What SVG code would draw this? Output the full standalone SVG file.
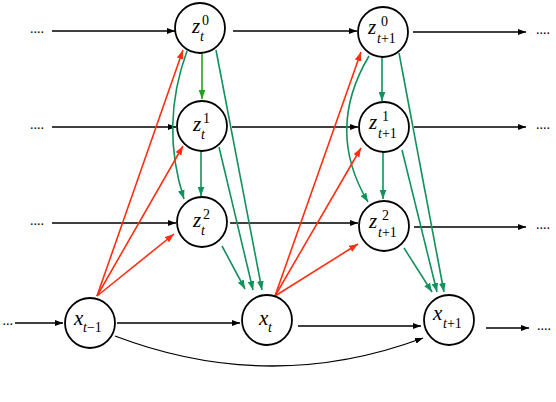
<svg xmlns="http://www.w3.org/2000/svg" width="556" height="402" viewBox="0 0 556 402">
<style>
.node circle{fill:#fff;stroke:#000;stroke-width:1.8}
.lbl{font-style:italic;font-size:21px}
.sub{font-size:14px}
.it{font-style:italic}
.dots{font-size:14px}
.blk{stroke:#000;stroke-width:1.3;fill:none;marker-end:url(#ab)}
.red{stroke:#ff2e12;stroke-width:1.6;fill:none;marker-end:url(#ar)}
.grn{stroke:#11925a;stroke-width:1.6;fill:none;marker-end:url(#ag)}
.grn2{stroke:#1fa31f;stroke-width:1.6;fill:none;marker-end:url(#ag2)}
</style>
<defs>
<marker id="ab" viewBox="0 0 8 6" refX="8" refY="3" markerWidth="8" markerHeight="6" markerUnits="userSpaceOnUse" orient="auto"><path d="M0,0 L8,3 L0,6 z" fill="#000"/></marker>
<marker id="ar" viewBox="0 0 8 6" refX="8" refY="3" markerWidth="9" markerHeight="7" markerUnits="userSpaceOnUse" orient="auto"><path d="M0,0 L8,3 L0,6 z" fill="#ff2e12"/></marker>
<marker id="ag" viewBox="0 0 8 6" refX="8" refY="3" markerWidth="9" markerHeight="7" markerUnits="userSpaceOnUse" orient="auto"><path d="M0,0 L8,3 L0,6 z" fill="#11925a"/></marker>
<marker id="ag2" viewBox="0 0 8 6" refX="8" refY="3" markerWidth="9" markerHeight="7" markerUnits="userSpaceOnUse" orient="auto"><path d="M0,0 L8,3 L0,6 z" fill="#1fa31f"/></marker>
</defs>
<g id="connectors">
<line class="blk" x1="52" y1="31" x2="175" y2="31"/>
<line class="blk" x1="233" y1="31" x2="357" y2="31"/>
<line class="blk" x1="413" y1="32" x2="526" y2="32"/>
<line class="blk" x1="52" y1="127" x2="176" y2="127"/>
<line class="blk" x1="232" y1="127" x2="358" y2="127"/>
<line class="blk" x1="414" y1="127" x2="526" y2="127"/>
<line class="blk" x1="52" y1="223" x2="176" y2="223"/>
<line class="blk" x1="230" y1="223" x2="358" y2="223"/>
<line class="blk" x1="414" y1="227" x2="526" y2="227"/>
<line class="blk" x1="15" y1="323" x2="63" y2="323"/>
<line class="blk" x1="117" y1="323" x2="240" y2="323"/>
<line class="blk" x1="298" y1="326" x2="421" y2="326"/>
<line class="blk" x1="486" y1="328" x2="529" y2="328"/>
<path class="blk" d="M115,336 Q270,395 423,338"/>
<line class="grn2" x1="202" y1="53" x2="202" y2="99"/>
<line class="grn" x1="201" y1="151" x2="201" y2="196"/>
<line class="grn" x1="382" y1="57" x2="382" y2="101"/>
<line class="grn" x1="383" y1="152" x2="383" y2="199"/>
<path class="grn" d="M187,51 Q160,125 184,199"/>
<path class="grn" d="M369,56 Q325,130 368,202"/>
<line class="grn" x1="216" y1="50" x2="262" y2="290"/>
<line class="grn" x1="219" y1="147" x2="253" y2="290"/>
<line class="grn" x1="222" y1="246" x2="245" y2="289"/>
<line class="grn" x1="399" y1="53" x2="444" y2="292"/>
<line class="grn" x1="402" y1="150" x2="437" y2="292"/>
<line class="grn" x1="404" y1="248" x2="432" y2="292"/>
<line class="red" x1="97" y1="296" x2="183" y2="50"/>
<line class="red" x1="97" y1="296" x2="183" y2="146"/>
<line class="red" x1="97" y1="296" x2="174" y2="234"/>
<line class="red" x1="275" y1="296" x2="361" y2="52"/>
<line class="red" x1="275" y1="296" x2="361" y2="148"/>
<line class="red" x1="275" y1="296" x2="358" y2="244"/>
</g>
<g font-family="Liberation Serif, DejaVu Serif, serif" fill="#000">
<g id="dots">
<text class="dots" x="30" y="33">....</text>
<text class="dots" x="30" y="129">....</text>
<text class="dots" x="30" y="225">....</text>
<text class="dots" x="13" y="325" text-anchor="end">...</text>
<text class="dots" x="536" y="34">....</text>
<text class="dots" x="536" y="129">....</text>
<text class="dots" x="536" y="229">....</text>
<text class="dots" x="537" y="330">....</text>
</g>
<g id="z_t_0" class="node"><circle cx="200" cy="28" r="25"/>
<text class="lbl" x="192" y="33">z</text><text class="sub" x="202" y="25">0</text><text class="sub it" x="200" y="41">t</text></g>
<g id="z_t_1" class="node"><circle cx="202" cy="126" r="25"/>
<text class="lbl" x="193" y="131">z</text><text class="sub" x="203" y="123">1</text><text class="sub it" x="201" y="139">t</text></g>
<g id="z_t_2" class="node"><circle cx="202" cy="222" r="25"/>
<text class="lbl" x="193" y="227">z</text><text class="sub" x="203" y="219">2</text><text class="sub it" x="201" y="235">t</text></g>
<g id="z_t1_0" class="node"><circle cx="383" cy="32" r="25"/>
<text class="lbl" x="368" y="34">z</text><text class="sub" x="381" y="26">0</text><text class="sub" x="377" y="43"><tspan class="it">t</tspan>+1</text></g>
<g id="z_t1_1" class="node"><circle cx="384" cy="127" r="25"/>
<text class="lbl" x="369" y="129">z</text><text class="sub" x="382" y="121">1</text><text class="sub" x="378" y="138"><tspan class="it">t</tspan>+1</text></g>
<g id="z_t1_2" class="node"><circle cx="384" cy="226" r="25"/>
<text class="lbl" x="369" y="228">z</text><text class="sub" x="382" y="220">2</text><text class="sub" x="378" y="237"><tspan class="it">t</tspan>+1</text></g>
<g id="x_tm1" class="node"><circle cx="90" cy="323" r="25"/>
<text class="lbl" x="74" y="325">x</text><text class="sub" x="83" y="332"><tspan class="it">t</tspan>−1</text></g>
<g id="x_t" class="node"><circle cx="267" cy="320" r="25"/>
<text class="lbl" x="259" y="325">x</text><text class="sub it" x="268" y="332">t</text></g>
<g id="x_tp1" class="node"><circle cx="449" cy="320" r="25"/>
<text class="lbl" x="433" y="320">x</text><text class="sub" x="443" y="328"><tspan class="it">t</tspan>+1</text></g>
</g>
</svg>
